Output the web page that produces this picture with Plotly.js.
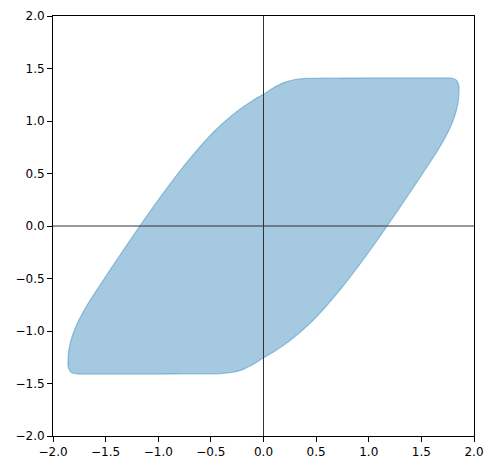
<!DOCTYPE html>
<html>
<head>
<meta charset="utf-8">
<script src="https://cdn.plot.ly/plotly-3.0.1.min.js"></script>
<style>
  html, body { margin: 0; padding: 0; background: #fff; }
  #chart { width: 495px; height: 470px; }
</style>
</head>
<body>
<div id="chart"></div>
<script>
// outline of the shaded region, clockwise from (0, 1.255)
const outlineX = [
  0, 0.10, 0.20, 0.30, 0.40, 0.60, 1.00, 1.40, 1.76, 1.80, 1.83, 1.848, 1.857, 1.858,
  1.852, 1.832, 1.800, 1.756, 1.703, 1.643, 1.578, 1.512, 1.446, 1.379, 1.312, 1.244, 1.175,
  1.106, 1.035, 0.963, 0.889, 0.813, 0.733, 0.650, 0.563, 0.469, 0.362, 0.240, 0.095,
  0, -0.10, -0.20, -0.30, -0.40, -0.60, -1.00, -1.40, -1.76, -1.80, -1.83, -1.848, -1.857, -1.858,
  -1.852, -1.832, -1.800, -1.756, -1.703, -1.643, -1.578, -1.512, -1.446, -1.379, -1.312, -1.244, -1.175,
  -1.106, -1.035, -0.963, -0.889, -0.813, -0.733, -0.650, -0.563, -0.469, -0.362, -0.240, -0.095, 0
];
const outlineY = [
  1.255, 1.32, 1.368, 1.395, 1.405, 1.408, 1.41, 1.41, 1.41, 1.405, 1.39, 1.365, 1.33, 1.30,
  1.2, 1.1, 1.0, 0.9, 0.8, 0.7, 0.6, 0.5, 0.4, 0.3, 0.2, 0.1, 0,
  -0.1, -0.2, -0.3, -0.4, -0.5, -0.6, -0.7, -0.8, -0.9, -1.0, -1.1, -1.2,
  -1.255, -1.32, -1.368, -1.395, -1.405, -1.408, -1.41, -1.41, -1.41, -1.405, -1.39, -1.365, -1.33, -1.30,
  -1.2, -1.1, -1.0, -0.9, -0.8, -0.7, -0.6, -0.5, -0.4, -0.3, -0.2, -0.1, 0,
  0.1, 0.2, 0.3, 0.4, 0.5, 0.6, 0.7, 0.8, 0.9, 1.0, 1.1, 1.2, 1.255
];
const tickVals = [-2, -1.5, -1, -0.5, 0, 0.5, 1, 1.5, 2];

const region = {
  type: 'scatter',
  mode: 'lines',
  x: outlineX,
  y: outlineY,
  fill: 'toself',
  fillcolor: 'rgba(31,119,180,0.4)',
  line: { color: 'rgba(31,119,180,0.4)', width: 1.2, shape: 'spline', smoothing: 0.4 },
  hoverinfo: 'skip',
};

const axisBase = {
  range: [-2, 2],
  tickvals: tickVals,
  tickformat: '.1f',
  ticks: 'outside',
  ticklen: 5,
  tickwidth: 1,
  tickcolor: '#000',
  showline: true,
  mirror: true,
  linecolor: '#000',
  linewidth: 1,
  showgrid: false,
  zeroline: false,
  tickfont: { family: 'DejaVu Sans', size: 12, color: '#000' },
};

const layout = {
  width: 495,
  height: 470,
  margin: { l: 53, r: 21, t: 16, b: 34 },
  paper_bgcolor: '#fff',
  plot_bgcolor: '#fff',
  showlegend: false,
  xaxis: Object.assign({}, axisBase),
  yaxis: Object.assign({}, axisBase),
  shapes: [
    { type: 'line', xref: 'paper', yref: 'y', x0: 0, x1: 1, y0: 0, y1: 0, line: { color: '#333', width: 1 } },
    { type: 'line', xref: 'x', yref: 'paper', x0: 0, x1: 0, y0: 0, y1: 1, line: { color: '#333', width: 1 } },
  ],
};

Plotly.newPlot('chart', [region], layout, { displayModeBar: false, staticPlot: true });
</script>
</body>
</html>
